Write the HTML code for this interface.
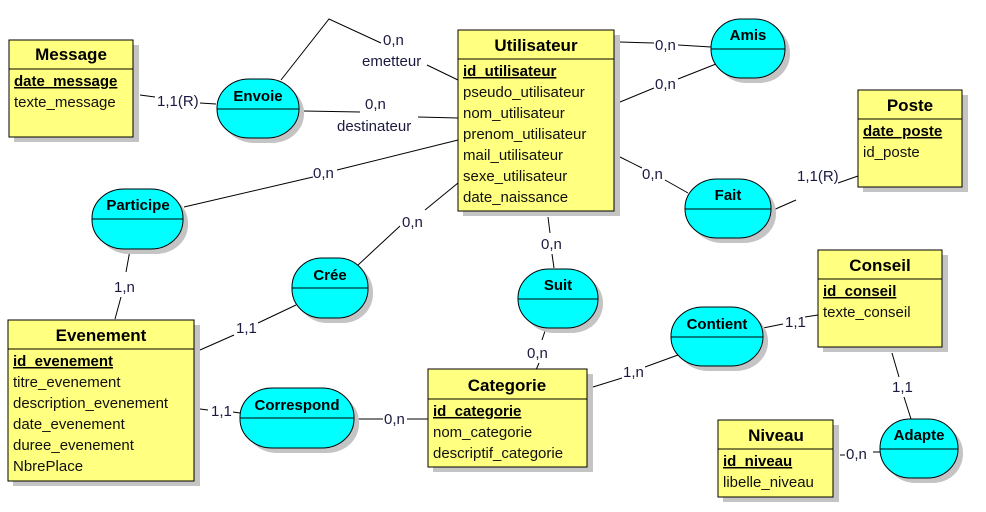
<!DOCTYPE html>
<html><head><meta charset="utf-8"><style>
html,body{margin:0;padding:0;background:#fff;}
svg{display:block;}
.t{font-family:"Liberation Sans",sans-serif;font-size:15px;fill:#111;}
.b{font-family:"Liberation Sans",sans-serif;font-size:17px;font-weight:bold;fill:#000;}
.a{font-family:"Liberation Sans",sans-serif;font-size:15px;font-weight:bold;fill:#000;}
.c{font-family:"Liberation Sans",sans-serif;font-size:15px;fill:#1a1a40;}
.ln{stroke:#000;stroke-width:1;fill:none;}
</style></head><body>
<svg width="986" height="512" viewBox="0 0 986 512" xmlns="http://www.w3.org/2000/svg">
<g class="ln">
<path d="M140 95 L155 97 M200 103 L216 104"/>
<path d="M281 80 L329 19 L381 43 M427 65 L458 80"/>
<path d="M304 111 L360 112 M418 117 L458 118"/>
<path d="M184 207 L313 177 M337 170 L458 140"/>
<path d="M130 250 L126 272 M121 297 L115 319"/>
<path d="M357 266 L400 226 M425 210 L458 183"/>
<path d="M200 350 L234 335 M258 323 L296 305"/>
<path d="M548 217 L550 233 M552 254 L554 268"/>
<path d="M546 328 L542 340 M539 363 L536 370"/>
<path d="M593 387 L622 378 M645 367 L678 355"/>
<path d="M763 328 L783 324 M805 317 L818 315"/>
<path d="M892 353 L899 377 M904 397 L911 419"/>
<path d="M840 455 L845 455 M873 452 L880 452"/>
<path d="M200 409 L208 410 M233 412 L240 413"/>
<path d="M358 419 L383 419 M407 419 L428 419"/>
<path d="M620 42 L654 43 M678 45 L711 47"/>
<path d="M620 102 L654 88 M678 79 L716 64"/>
<path d="M620 157 L642 168 M665 180 L688 193"/>
<path d="M771 211 L796 200 M838 183 L858 176"/>
</g>
<g class="c">
<text x="157" y="106">1,1(R)</text>
<text x="383" y="45">0,n</text>
<text x="362" y="66">emetteur</text>
<text x="365" y="109">0,n</text>
<text x="337" y="131">destinateur</text>
<text x="313" y="178">0,n</text>
<text x="114" y="292">1,n</text>
<text x="402" y="227">0,n</text>
<text x="236" y="333">1,1</text>
<text x="541" y="249">0,n</text>
<text x="527" y="358">0,n</text>
<text x="623" y="377">1,n</text>
<text x="785" y="327">1,1</text>
<text x="892" y="392">1,1</text>
<text x="846" y="459">0,n</text>
<text x="211" y="416">1,1</text>
<text x="384" y="424">0,n</text>
<text x="655" y="50">0,n</text>
<text x="655" y="89">0,n</text>
<text x="642" y="179">0,n</text>
<text x="797" y="181">1,1(R)</text>
</g>
<g>
<rect x="14" y="45" width="125" height="97" fill="#c4c4c4"/>
<rect x="9" y="40" width="124" height="97" fill="#ffff80" stroke="#000"/>
<line x1="9" y1="69" x2="133" y2="69" stroke="#000"/>
<text class="b" x="71" y="60" text-anchor="middle">Message</text>
<text class="a" x="14" y="86" text-decoration="underline">date_message</text>
<text class="t" x="14" y="107">texte_message</text>

<rect x="463" y="35" width="157" height="181" fill="#c4c4c4"/>
<rect x="458" y="30" width="156" height="181" fill="#ffff80" stroke="#000"/>
<line x1="458" y1="59" x2="614" y2="59" stroke="#000"/>
<text class="b" x="536" y="51" text-anchor="middle">Utilisateur</text>
<text class="a" x="463" y="76" text-decoration="underline">id_utilisateur</text>
<text class="t" x="463" y="97">pseudo_utilisateur</text>
<text class="t" x="463" y="118">nom_utilisateur</text>
<text class="t" x="463" y="139">prenom_utilisateur</text>
<text class="t" x="463" y="160">mail_utilisateur</text>
<text class="t" x="463" y="181">sexe_utilisateur</text>
<text class="t" x="463" y="202">date_naissance</text>

<rect x="863" y="95" width="105" height="97" fill="#c4c4c4"/>
<rect x="858" y="90" width="104" height="97" fill="#ffff80" stroke="#000"/>
<line x1="858" y1="119" x2="962" y2="119" stroke="#000"/>
<text class="b" x="910" y="111" text-anchor="middle">Poste</text>
<text class="a" x="863" y="136" text-decoration="underline">date_poste</text>
<text class="t" x="863" y="157">id_poste</text>

<rect x="823" y="255" width="125" height="97" fill="#c4c4c4"/>
<rect x="818" y="250" width="124" height="97" fill="#ffff80" stroke="#000"/>
<line x1="818" y1="279" x2="942" y2="279" stroke="#000"/>
<text class="b" x="880" y="271" text-anchor="middle">Conseil</text>
<text class="a" x="823" y="296" text-decoration="underline">id_conseil</text>
<text class="t" x="823" y="317">texte_conseil</text>

<rect x="13" y="325" width="187" height="161" fill="#c4c4c4"/>
<rect x="8" y="320" width="186" height="161" fill="#ffff80" stroke="#000"/>
<line x1="8" y1="349" x2="194" y2="349" stroke="#000"/>
<text class="b" x="101" y="341" text-anchor="middle">Evenement</text>
<text class="a" x="13" y="366" text-decoration="underline">id_evenement</text>
<text class="t" x="13" y="387">titre_evenement</text>
<text class="t" x="13" y="408">description_evenement</text>
<text class="t" x="13" y="429">date_evenement</text>
<text class="t" x="13" y="450">duree_evenement</text>
<text class="t" x="13" y="471">NbrePlace</text>

<rect x="433" y="374" width="160" height="98" fill="#c4c4c4"/>
<rect x="428" y="369" width="159" height="98" fill="#ffff80" stroke="#000"/>
<line x1="428" y1="399" x2="587" y2="399" stroke="#000"/>
<text class="b" x="507" y="391" text-anchor="middle">Categorie</text>
<text class="a" x="433" y="416" text-decoration="underline">id_categorie</text>
<text class="t" x="433" y="437">nom_categorie</text>
<text class="t" x="433" y="458">descriptif_categorie</text>

<rect x="723" y="425" width="116" height="77" fill="#c4c4c4"/>
<rect x="718" y="420" width="115" height="77" fill="#ffff80" stroke="#000"/>
<line x1="718" y1="449" x2="833" y2="449" stroke="#000"/>
<text class="b" x="776" y="441" text-anchor="middle">Niveau</text>
<text class="a" x="723" y="466" text-decoration="underline">id_niveau</text>
<text class="t" x="723" y="487">libelle_niveau</text>
</g>
<g>
<g><rect x="222" y="84" width="82" height="59" rx="32" ry="29" fill="#c4c4c4"/><rect x="217" y="79" width="82" height="59" rx="32" ry="29" fill="#00ffff" stroke="#000"/><line x1="217" y1="109" x2="299" y2="109" stroke="#000"/><text class="a" x="258" y="101" text-anchor="middle">Envoie</text></g>
<g><rect x="716" y="24" width="74" height="59" rx="30" ry="29" fill="#c4c4c4"/><rect x="711" y="19" width="74" height="59" rx="30" ry="29" fill="#00ffff" stroke="#000"/><line x1="711" y1="49" x2="785" y2="49" stroke="#000"/><text class="a" x="748" y="40" text-anchor="middle">Amis</text></g>
<g><rect x="690" y="184" width="86" height="59" rx="32" ry="29" fill="#c4c4c4"/><rect x="685" y="179" width="86" height="59" rx="32" ry="29" fill="#00ffff" stroke="#000"/><line x1="685" y1="209" x2="771" y2="209" stroke="#000"/><text class="a" x="728" y="200" text-anchor="middle">Fait</text></g>
<g><rect x="97" y="194" width="91" height="60" rx="32" ry="29" fill="#c4c4c4"/><rect x="92" y="189" width="91" height="60" rx="32" ry="29" fill="#00ffff" stroke="#000"/><line x1="92" y1="219" x2="183" y2="219" stroke="#000"/><text class="a" x="138" y="210" text-anchor="middle">Participe</text></g>
<g><rect x="297" y="263" width="76" height="60" rx="30" ry="29" fill="#c4c4c4"/><rect x="292" y="258" width="76" height="60" rx="30" ry="29" fill="#00ffff" stroke="#000"/><line x1="292" y1="288" x2="368" y2="288" stroke="#000"/><text class="a" x="330" y="280" text-anchor="middle">Crée</text></g>
<g><rect x="523" y="274" width="80" height="59" rx="31" ry="29" fill="#c4c4c4"/><rect x="518" y="269" width="80" height="59" rx="31" ry="29" fill="#00ffff" stroke="#000"/><line x1="518" y1="299" x2="598" y2="299" stroke="#000"/><text class="a" x="558" y="290" text-anchor="middle">Suit</text></g>
<g><rect x="676" y="312" width="92" height="59" rx="32" ry="29" fill="#c4c4c4"/><rect x="671" y="307" width="92" height="59" rx="32" ry="29" fill="#00ffff" stroke="#000"/><line x1="671" y1="337" x2="763" y2="337" stroke="#000"/><text class="a" x="717" y="329" text-anchor="middle">Contient</text></g>
<g><rect x="245" y="393" width="114" height="60" rx="32" ry="29" fill="#c4c4c4"/><rect x="240" y="388" width="114" height="60" rx="32" ry="29" fill="#00ffff" stroke="#000"/><line x1="240" y1="418" x2="354" y2="418" stroke="#000"/><text class="a" x="297" y="410" text-anchor="middle">Correspond</text></g>
<g><rect x="885" y="424" width="78" height="59" rx="30" ry="29" fill="#c4c4c4"/><rect x="880" y="419" width="78" height="59" rx="30" ry="29" fill="#00ffff" stroke="#000"/><line x1="880" y1="449" x2="958" y2="449" stroke="#000"/><text class="a" x="919" y="440" text-anchor="middle">Adapte</text></g>
</g>
</svg>
</body></html>
